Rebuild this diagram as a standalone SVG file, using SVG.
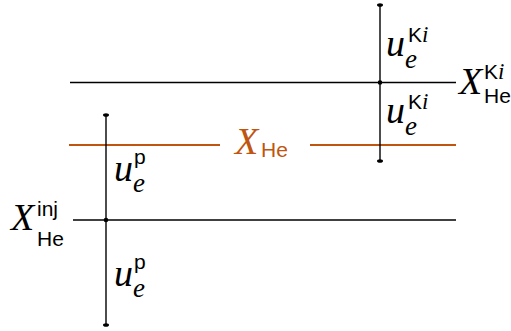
<svg xmlns="http://www.w3.org/2000/svg" width="511" height="331" viewBox="0 0 511 331">
<style>
.k{stroke:#000;stroke-width:1.4;fill:none}
.o{stroke:#c0550f;stroke-width:1.8;fill:none}
.m{font-family:"Liberation Serif",serif;font-style:italic;font-size:38px}
.s{font-family:"Liberation Sans",sans-serif;font-size:21px}
.si{font-family:"Liberation Serif",serif;font-style:italic;font-size:23px}
.se{font-family:"Liberation Serif",serif;font-style:italic;font-size:27px}
.or{fill:#c0550f}
.dot{fill:#000}
</style>
<g id="connectors">
<line class="k" x1="70" y1="82.5" x2="456" y2="82.5"/>
<line class="o" x1="69" y1="145" x2="220" y2="145"/>
<line class="o" x1="310" y1="145" x2="456" y2="145"/>
<line class="k" x1="73" y1="220" x2="456" y2="220"/>
<line class="k" x1="380" y1="5" x2="380" y2="161"/>
<line class="k" x1="106" y1="115" x2="106" y2="325"/>
<ellipse class="dot" cx="380" cy="5" rx="3" ry="1.8"/>
<ellipse class="dot" cx="380" cy="161" rx="3" ry="1.8"/>
<ellipse class="dot" cx="106" cy="115" rx="3" ry="1.8"/>
<ellipse class="dot" cx="106" cy="325" rx="3" ry="1.8"/>
<circle class="dot" cx="380" cy="82.5" r="2.3"/>
<circle class="dot" cx="106" cy="220" r="2.3"/>
</g>
<g id="uKi-upper">
<text class="m" x="386" y="56">u</text>
<text class="se" x="405" y="68">e</text>
<text class="s" x="408" y="42">K<tspan class="si">i</tspan></text>
</g>
<g id="uKi-lower">
<text class="m" x="386" y="123">u</text>
<text class="se" x="405" y="135">e</text>
<text class="s" x="408" y="109">K<tspan class="si">i</tspan></text>
</g>
<g id="XHeKi">
<text class="m" x="459" y="94">X</text>
<text class="s" x="484" y="79">K<tspan class="si">i</tspan></text>
<text class="s" x="484" y="103">He</text>
</g>
<g id="XHe">
<text class="m or" x="235" y="154">X</text>
<text class="s or" x="261" y="157">He</text>
</g>
<g id="up-upper">
<text class="m" x="114" y="181">u</text>
<text class="se" x="133" y="192">e</text>
<text class="s" x="134" y="164">p</text>
</g>
<g id="up-lower">
<text class="m" x="114" y="286">u</text>
<text class="se" x="133" y="297">e</text>
<text class="s" x="134" y="269">p</text>
</g>
<g id="XHeinj">
<text class="m" x="11" y="230">X</text>
<text class="s" x="37" y="216">inj</text>
<text class="s" x="37" y="246">He</text>
</g>
</svg>
